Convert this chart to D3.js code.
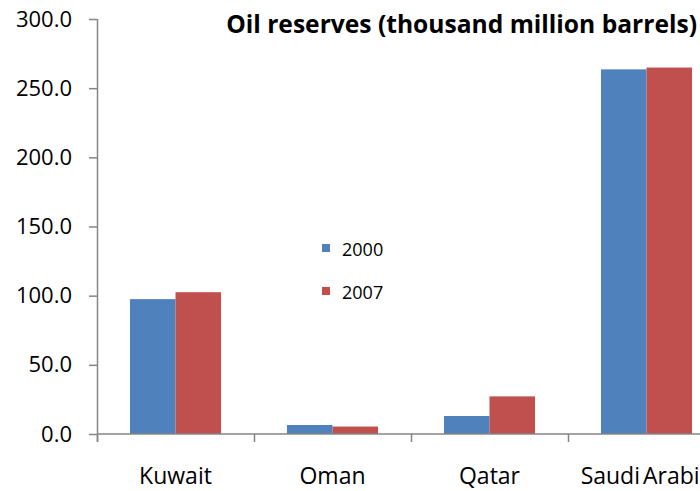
<!DOCTYPE html>
<html>
<head>
<meta charset="utf-8">
<script src="https://cdn.jsdelivr.net/npm/d3@7"></script>
<style>
  html, body { margin: 0; padding: 0; background: #fff; }
  svg { display: block; font-family: "Open Sans", sans-serif; }
</style>
</head>
<body>
<svg id="chart" width="700" height="491"></svg>
<script>
// Proved oil reserves by country, thousand million barrels
const countries = ["Kuwait", "Oman", "Qatar", "Saudi Arabia"];
const years = ["2000", "2007"];
const reserves2000 = [97.5, 6.5, 13.0, 263.6];
const reserves2007 = [102.5, 5.4, 27.2, 264.9];
const yTicks = [0, 50, 100, 150, 200, 250, 300];
const seriesColors = ["#4F81BD", "#C0504D"];

const rows = countries.map((c, i) => ({ country: c, values: [reserves2000[i], reserves2007[i]] }));

const svg = d3.select("#chart");
const axisColor = "#868686";

// Plot area: the last category runs past the right edge of the canvas
const plot = { left: 97, right: 725, top: 19, bottom: 434 };

const x = d3.scaleBand().domain(countries).range([plot.left, plot.right]).padding(0);
const groupWidth = x.bandwidth() * 0.58;
const x1 = d3.scaleBand().domain(years).range([0, groupWidth]).padding(0);
const y = d3.scaleLinear().domain([0, 300]).range([plot.bottom, plot.top]);

// Bars
const groups = svg.append("g")
  .selectAll("g")
  .data(rows)
  .join("g")
  .attr("transform", d => `translate(${x(d.country) + (x.bandwidth() - groupWidth) / 2},0)`);

groups.selectAll("rect")
  .data(d => d.values.map((v, j) => ({ year: years[j], value: v, j })))
  .join("rect")
  .attr("x", d => x1(d.year))
  .attr("y", d => y(d.value))
  .attr("width", x1.bandwidth())
  .attr("height", d => y(0) - y(d.value))
  .attr("fill", d => seriesColors[d.j]);

// Value axis
const yAxis = d3.axisLeft(y)
  .tickValues(yTicks)
  .tickFormat(d3.format(".1f"))
  .tickSize(8)
  .tickSizeOuter(0)
  .tickPadding(17);

const yg = svg.append("g")
  .attr("transform", `translate(${plot.left},0)`)
  .call(yAxis);
yg.select(".domain").attr("stroke", axisColor).attr("stroke-width", 1.5)
  .attr("d", `M0.5,${plot.top}V${plot.bottom + 8}`);
yg.selectAll(".tick line").attr("stroke", axisColor).attr("stroke-width", 1.5);
yg.selectAll(".tick text")
  .attr("fill", "#000")
  .style("font-size", "22px")
  .style("font-family", "'Open Sans', sans-serif");

// Category axis: baseline with ticks between categories
const xg = svg.append("g");
xg.append("line")
  .attr("x1", plot.left).attr("x2", plot.right)
  .attr("y1", y(0)).attr("y2", y(0))
  .attr("stroke", axisColor).attr("stroke-width", 1.5);

const boundaries = countries.map(c => x(c)).concat([x(countries[countries.length - 1]) + x.bandwidth()]);
xg.selectAll("line.tick")
  .data(boundaries)
  .join("line")
  .attr("class", "tick")
  .attr("x1", d => d + 0.5).attr("x2", d => d + 0.5)
  .attr("y1", y(0)).attr("y2", y(0) + 8)
  .attr("stroke", axisColor).attr("stroke-width", 1.5);

xg.selectAll("text")
  .data(countries)
  .join("text")
  .attr("x", d => x(d) + x.bandwidth() / 2)
  .attr("y", 484)
  .attr("text-anchor", "middle")
  .style("font-size", "23px")
  .style("word-spacing", "-3px")
  .text(d => d);

// Title
svg.append("text")
  .attr("x", 697)
  .attr("y", 33)
  .attr("text-anchor", "end")
  .style("font-size", "24.6px")
  .style("font-weight", "bold")
  .text("Oil reserves (thousand million barrels)");

// Legend
const legend = svg.append("g");
const legendRows = legend.selectAll("g")
  .data(years)
  .join("g")
  .attr("transform", (d, i) => `translate(322,${244 + i * 43})`);
legendRows.append("rect")
  .attr("width", 8).attr("height", 8)
  .attr("fill", (d, i) => seriesColors[i]);
legendRows.append("text")
  .attr("x", 20).attr("y", 12)
  .style("font-size", "18px")
  .text(d => d);
</script>
</body>
</html>
